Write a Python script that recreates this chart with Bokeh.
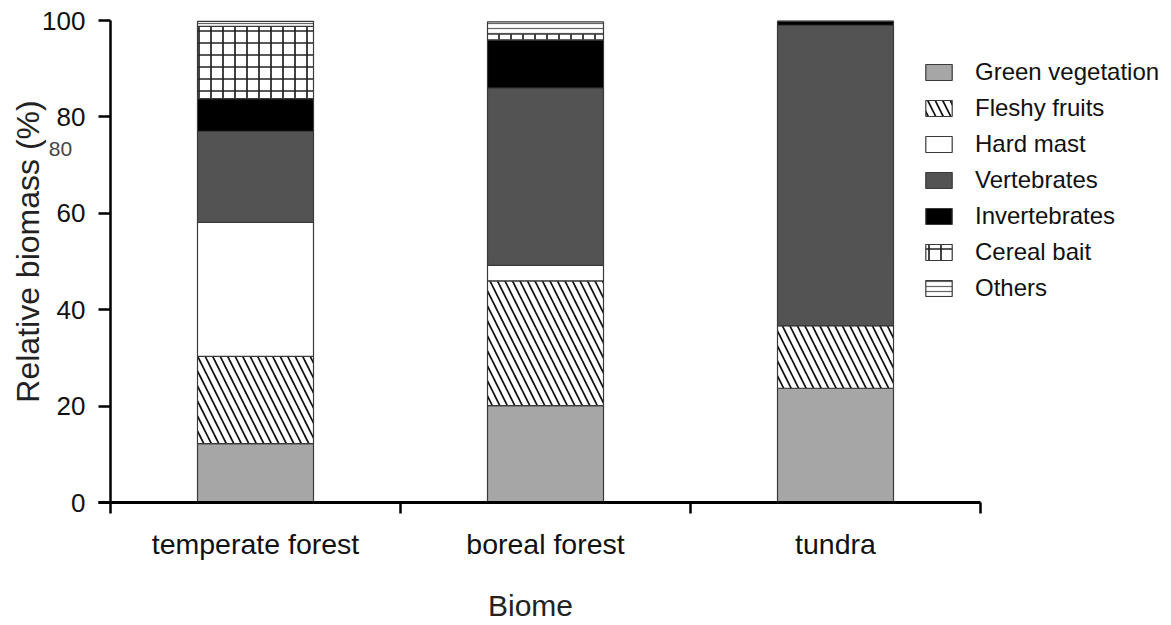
import math
from bokeh.plotting import figure
from bokeh.models import ColumnDataSource, Range1d, FixedTicker, Label
from bokeh.embed import file_html
from bokeh.resources import INLINE

# ---- data -------------------------------------------------------------
categories = ["temperate forest", "boreal forest", "tundra"]
green_vegetation = [12.2, 20.1, 23.7]
fleshy_fruits = [18.1, 25.9, 13.0]
hard_mast = [27.8, 3.2, 0.0]
vertebrates = [18.9, 36.8, 62.3]
invertebrates = [6.8, 10.0, 0.8]
cereal_bait = [15.0, 1.2, 0.0]
others = [1.0, 2.5, 0.0]
series_labels = ["Green vegetation", "Fleshy fruits", "Hard mast", "Vertebrates",
                 "Invertebrates", "Cereal bait", "Others"]
y_ticks = [0, 20, 40, 60, 80, 100]
x_title = "Biome"
y_title = "Relative biomass (%)"
stray_label = "80"

FONT = "Liberation Sans"

# layout (screen px): the frame covers the whole canvas, axes are fixed in data space
W, H = 1171, 625
AXIS_LEFT_PX = 110          # screen x of the y axis
AXIS_BOTTOM_PX = 502        # screen y of the x axis
AXIS_TOP_PX = 20            # screen y of 100 %
PX_PER_CAT = 290
px_per_pct = (AXIS_BOTTOM_PX - AXIS_TOP_PX) / 100
x_start = -AXIS_LEFT_PX / PX_PER_CAT
x_end = x_start + W / PX_PER_CAT
y_start = -(H - AXIS_BOTTOM_PX) / px_per_pct
y_end = 100 + AXIS_TOP_PX / px_per_pct


def sx(px):
    return x_start + px / PX_PER_CAT


def sy(py):
    return y_end - py / px_per_pct


xs = [i + 0.5 for i in range(len(categories))]
keys = ["gv", "ff", "hm", "ve", "iv", "cb", "ot"]
source = ColumnDataSource(dict(x=xs, gv=green_vegetation, ff=fleshy_fruits, hm=hard_mast,
                               ve=vertebrates, iv=invertebrates, cb=cereal_bait, ot=others))

p = figure(width=W, height=H, output_backend="svg", toolbar_location=None,
           x_range=Range1d(x_start, x_end), y_range=Range1d(y_start, y_end),
           min_border_left=0, min_border_right=0, min_border_top=0,
           min_border_bottom=0)
p.outline_line_color = None
p.xgrid.visible = False
p.ygrid.visible = False
p.background_fill_color = "white"

p.vbar_stack(keys, x="x", width=0.4, source=source,
             fill_color=["#a6a6a6", "white", "white", "#535353", "black", "white", "white"],
             line_color="#3a3a3a", line_width=1.2,
             hatch_pattern=["blank", "left_diagonal_line", "blank", "blank", "blank",
                            "cross", "horizontal_line"],
             hatch_scale=[12, 15, 12, 12, 12, 12, 5],
             hatch_weight=[1, 1.7, 1, 1, 1, 1.7, 1.2],
             hatch_color=["black", "#111111", "black", "black", "black", "#222222", "#666666"],
             legend_label=series_labels)

# y axis, drawn at x = 0 (left edge of the first category)
ya = p.yaxis[0]
ya.fixed_location = 0
ya.bounds = (0, 100)
ya.ticker = FixedTicker(ticks=y_ticks)
ya.major_label_text_font = FONT
ya.major_label_text_font_size = "26px"
ya.major_label_text_color = "#111111"
ya.major_label_standoff = 13
ya.axis_line_width = 2.5
ya.major_tick_line_width = 2.5
ya.major_tick_out = 12
ya.major_tick_in = 0
ya.minor_tick_line_color = None

# x axis, drawn at y = 0
xa = p.xaxis[0]
xa.fixed_location = 0
xa.bounds = (-12 / PX_PER_CAT, len(categories))
xa.ticker = FixedTicker(ticks=xs, minor_ticks=list(range(len(categories) + 1)))
xa.major_label_overrides = {x: c for x, c in zip(xs, categories)}
xa.major_label_text_font = FONT
xa.major_label_text_font_size = "28.5px"
xa.major_label_text_color = "#111111"
xa.major_label_standoff = 14
xa.axis_line_width = 3
xa.major_tick_out = 0
xa.major_tick_in = 0
xa.minor_tick_out = 11
xa.minor_tick_in = 0
xa.minor_tick_line_width = 2.5

# axis titles
p.add_layout(Label(x=sx(530), y=sy(605), text=x_title, text_font=FONT,
                   text_font_size="30px", text_color="#222222",
                   text_align="center", text_baseline="middle"))
p.add_layout(Label(x=sx(27), y=sy(251), text=y_title, text_font=FONT,
                   text_font_size="32px", text_color="#222222", angle=math.pi / 2,
                   text_align="center", text_baseline="middle"))

# legend
lg = p.legend[0]
lg.location = (922, 323)
lg.border_line_color = None
lg.background_fill_alpha = 0
lg.padding = 0
lg.margin = 0
lg.glyph_width = 33
lg.glyph_height = 20
lg.label_height = 28
lg.spacing = 8
lg.label_standoff = 20
lg.label_text_font = FONT
lg.label_text_font_size = "24px"
lg.label_text_color = "#111111"
lg.label_text_baseline = "middle"

p.add_layout(Label(x=sx(60), y=sy(148), text=stray_label, text_font=FONT,
                   text_font_size="21px", text_color="#444444",
                   text_align="center", text_baseline="middle"))

open("out.html", "w").write(file_html(p, INLINE))
